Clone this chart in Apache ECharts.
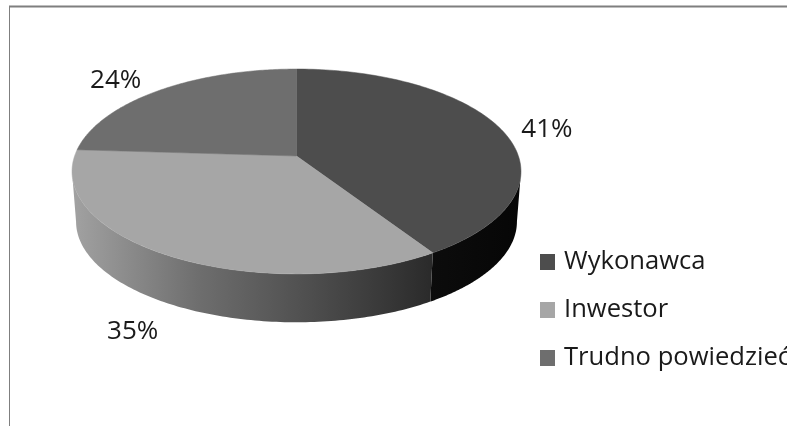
<!DOCTYPE html>
<html><head><meta charset="utf-8">
<style>html,body{margin:0;padding:0;background:#fff;overflow:hidden}#c{width:787px;height:426px}</style>
<script src="https://cdn.jsdelivr.net/npm/echarts@6/dist/echarts.min.js"></script>
</head><body><div id="c"></div>
<script>
const categories = ['Wykonawca', 'Inwestor', 'Trudno powiedzieć'];
const values = [41, 35, 24];
const topColors = ['#4d4d4d', '#a6a6a6', '#6e6e6e'];
const labelOffsets = [[46, 0], [-34, 77], [-44, -10]];

const cx = 296.5, hubY = 156, a = 221.9, b = 100.1, p = 0.151;
const depth = 50.5, lowerScale = 0.982;
const total = values.reduce((s, v) => s + v, 0);
const frontStart = Math.acos(-p), frontEnd = 2 * Math.PI - frontStart;

function project(theta, scale, dy) {
  const s = Math.sin(theta), c = Math.cos(theta), w = 1 + p * c;
  return [cx + scale * a * s / w, hubY + dy - scale * b * c / w];
}
function span(i) {
  const before = values.slice(0, i).reduce((s, v) => s + v, 0);
  return [before / total * 2 * Math.PI, (before + values[i]) / total * 2 * Math.PI];
}
function rim(t0, t1, scale, dy) {
  const n = 120, pts = [];
  for (let k = 0; k <= n; k++) pts.push(project(t0 + (t1 - t0) * k / n, scale, dy));
  return pts;
}
const wallFills = [
  { type: 'linear', x: 0, y: 0, x2: 1, y2: 0, colorStops: [{ offset: 0, color: '#0c0c0c' }, { offset: 1, color: '#060606' }] },
  { type: 'linear', x: 0, y: 0, x2: 1, y2: 0, colorStops: [
    { offset: 0, color: '#a2a2a2' }, { offset: 0.35, color: '#6e6e6e' },
    { offset: 0.7, color: '#4a4a4a' }, { offset: 1, color: '#2a2a2a' }] },
  '#6e6e6e'
];

const wallSeries = {
  type: 'custom', name: 'walls', coordinateSystem: 'none', z: 1, silent: true,
  data: values,
  renderItem(params) {
    const i = params.dataIndex, s = span(i);
    const t0 = Math.max(s[0], frontStart), t1 = Math.min(s[1], frontEnd);
    if (t1 <= t0) return { type: 'group', children: [] };
    const pts = rim(t0, t1, 1, 0).concat(rim(t1, t0, lowerScale, depth));
    return { type: 'polygon', shape: { points: pts }, style: { fill: wallFills[i], stroke: null } };
  }
};
const topSeries = categories.map((name, i) => ({
  type: 'custom', name, coordinateSystem: 'none', z: 2, silent: true,
  itemStyle: { color: topColors[i] },
  data: [values[i]],
  renderItem() {
    const [t0, t1] = span(i);
    const pts = [[cx, hubY]].concat(rim(t0, t1, 1, 0));
    const mid = project((t0 + t1) / 2, 1, 0);
    return { type: 'group', children: [
      { type: 'polygon', shape: { points: pts }, style: { fill: topColors[i], stroke: topColors[i], lineWidth: 0.5 } },
      { type: 'text', x: mid[0] + labelOffsets[i][0], y: mid[1] + labelOffsets[i][1],
        style: { text: values[i] + '%', fill: '#1a1a1a', font: '26px "Open Sans", sans-serif', align: 'center', verticalAlign: 'middle' } }
    ] };
  }
}));

const chart = echarts.init(document.getElementById('c'), null, { renderer: 'canvas' });
chart.setOption({
  animation: false,
  backgroundColor: '#fff',
  legend: {
    data: categories, orient: 'vertical', left: 540, top: 249,
    icon: 'rect', itemWidth: 15, itemHeight: 16, itemGap: 22, padding: 0,
    selectedMode: false,
    textStyle: { fontSize: 25.6, fontFamily: '"Open Sans", sans-serif', color: '#1a1a1a', padding: [0, 0, 0, 4] }
  },
  graphic: [
    { type: 'line', silent: true, shape: { x1: 9, y1: 6.5, x2: 787, y2: 6.5 }, style: { stroke: '#7f7f7f', lineWidth: 2 } },
    { type: 'line', silent: true, shape: { x1: 9.5, y1: 6, x2: 9.5, y2: 426 }, style: { stroke: '#7f7f7f', lineWidth: 1 } }
  ],
  series: [wallSeries].concat(topSeries)
});
</script></body></html>
